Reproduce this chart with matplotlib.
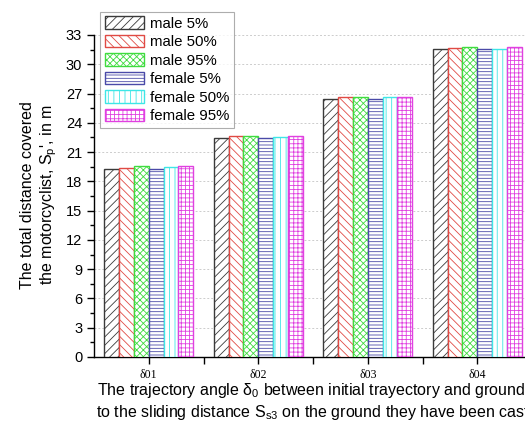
import matplotlib
matplotlib.use("Agg")
import matplotlib.pyplot as plt
import numpy as np
from matplotlib.ticker import MultipleLocator, FixedLocator

plt.rcParams['font.family'] = ['Liberation Sans', 'DejaVu Sans']
plt.rcParams['hatch.linewidth'] = 0.6

# distance covered per trajectory angle group
groups = ['δ01', 'δ02', 'δ03', 'δ04']
labels = ['male 5%', 'male 50%', 'male 95%', 'female 5%', 'female 50%', 'female 95%']
male5 = [19.3, 22.4, 26.4, 31.6]
male50 = [19.4, 22.6, 26.6, 31.7]
male95 = [19.6, 22.7, 26.6, 31.8]
female5 = [19.3, 22.4, 26.4, 31.6]
female50 = [19.5, 22.5, 26.6, 31.6]
female95 = [19.6, 22.7, 26.6, 31.8]

series = [male5, male50, male95, female5, female50, female95]
colors = ['#3a3a3a', '#e04a44', '#3fdc3f', '#4a4aa8', '#3ee6e6', '#e040e0']
hatch_colors = ['#7a7a7a', '#ee9490', '#8cec8c', '#8c8cc8', '#8ef0f0', '#ee8cee']
hatches = ['////', '\\\\\\\\', 'xxxxx', '-----', '|||', '++++']

fig = plt.figure(figsize=(5.25, 4.26), dpi=100)
ax = fig.add_axes([94/525, 1-357/426, 438/525, 322/426])

x = np.arange(len(groups))
w = 0.135
for i, (vals, c, hc, h, lab) in enumerate(zip(series, colors, hatch_colors, hatches, labels)):
    bars = ax.bar(x + (i - 2.5) * w, vals, w, facecolor='white', edgecolor=c,
                  hatch=h, linewidth=1.0, label=lab, zorder=3)
    for b in bars:
        if hasattr(b, 'set_hatchcolor'):
            b.set_hatchcolor(hc)

ax.set_xlim(-0.5, 3.5)
ax.set_ylim(0, 33)
ax.yaxis.set_major_locator(MultipleLocator(3))
ax.yaxis.set_minor_locator(MultipleLocator(1.5))
ax.set_xticks(x)
ax.set_xticklabels(groups, family='Liberation Serif', fontsize=8.5)
ax.xaxis.set_minor_locator(FixedLocator([0.5, 1.5, 2.5, 3.5]))
ax.tick_params(axis='y', labelsize=10.5, direction='out', length=5, width=1)
ax.tick_params(axis='y', which='minor', direction='out', length=3, width=1)
ax.tick_params(axis='x', direction='out', length=5, width=1, pad=4)
ax.tick_params(axis='x', which='minor', direction='out', length=5, width=1)

for s in ['top', 'right']:
    ax.spines[s].set_visible(False)
for s in ['left', 'bottom']:
    ax.spines[s].set_linewidth(1.0)

ax.yaxis.grid(True, linestyle=(0, (2, 2)), color='#cccccc', linewidth=0.7, zorder=0)
ax.set_axisbelow(True)

fig.text(28/525, 1-195/426, 'The total distance covered', rotation=90,
         ha='center', va='center', fontsize=11.5)
fig.text(49/525, 1-195/426, r"the motorcyclist, S$\mathregular{_p}$', in m", rotation=90,
         ha='center', va='center', fontsize=11.5)

fig.text(97/525, 1-390/426, r'The trajectory angle δ$\mathregular{_0}$ between initial trayectory and ground',
         ha='left', va='center', fontsize=11.5)
fig.text(96/525, 1-413/426, r'to the sliding distance S$\mathregular{_{s3}}$ on the ground they have been cast',
         ha='left', va='center', fontsize=11.5)

leg = ax.legend(loc='upper left', bbox_to_anchor=(100/525, 1-12/426),
                bbox_transform=fig.transFigure, fontsize=10.8, frameon=True,
                fancybox=False, edgecolor='#999999', handlelength=2.6,
                handleheight=0.9, labelspacing=0.27, borderpad=0.3,
                handletextpad=0.45, borderaxespad=0)
leg.get_frame().set_linewidth(0.8)

fig.savefig('out.png', dpi=100)
